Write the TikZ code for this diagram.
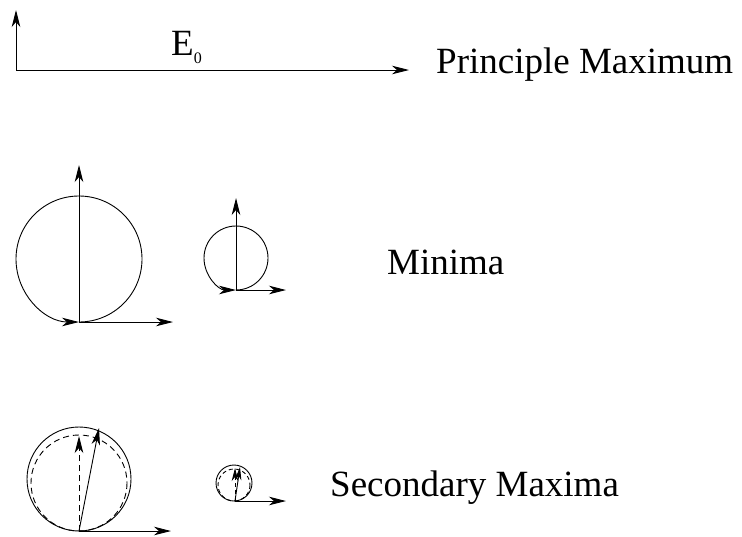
\documentclass[tikz,border=0pt]{standalone}
\usepackage{fontspec}
\setmainfont{Liberation Serif}
\usetikzlibrary{arrows.meta}
\begin{document}
\begin{tikzpicture}[x=1pt,y=-1pt,
  tip/.tip={Stealth[length=17pt,width=8.5pt,inset=5pt]},
  stip/.tip={Stealth[length=13pt,width=6.5pt,inset=4pt]},
  vec/.style={line width=0.9pt,-tip},
  circ/.style={line width=0.9pt},
  dcirc/.style={line width=0.9pt,dash pattern=on 6pt off 4pt},
  lbl/.style={inner sep=0pt,anchor=base west,font=\fontsize{37}{44}\selectfont}]
\useasboundingbox (0,0) rectangle (742,536);
% principle maximum
\coordinate (o1) at (16,70);
\coordinate (v1) at (16,10);
\coordinate (h1) at (409,70);
\draw[vec] (o1) -- (v1);
\draw[vec] (o1) -- (h1);
\node[lbl] (e0) at (171,55) {E\raisebox{-8pt}{\fontsize{16}{18}\selectfont 0}};
\node[lbl] (pm) at (436,73) {Principle Maximum};
% minima big
\coordinate (o2) at (79,322);
\coordinate (v2) at (79,165);
\coordinate (h2) at (173,322);
\draw[circ,-tip] (o2) arc[start angle=90,end angle=-270,radius=63];
\draw[vec] (o2) -- (v2);
\draw[vec] (o2) -- (h2);
% minima small
\coordinate (o3) at (236,290);
\coordinate (v3) at (236,198);
\coordinate (h3) at (286,290);
\draw[circ,-tip] (o3) arc[start angle=90,end angle=-270,radius=32];
\draw[vec] (o3) -- (v3);
\draw[vec] (o3) -- (h3);
\node[lbl] (mi) at (387,274) {Minima};
% secondary maxima big
\coordinate (o4) at (79,531);
\coordinate (d4) at (79,436);
\coordinate (s4) at (99,428);
\coordinate (h4) at (171,531);
\draw[circ] (79,479) circle[radius=52];
\draw[dcirc] (79,483) circle[radius=48];
\draw[vec,dash pattern=on 6pt off 4pt] (o4) -- (d4);
\draw[vec] (o4) -- (s4);
\draw[vec] (o4) -- (h4);
% secondary maxima small
\coordinate (o5) at (235,501);
\coordinate (d5) at (235,468);
\coordinate (s5) at (240,467);
\coordinate (h5) at (286,501);
\draw[circ] (234,483) circle[radius=18];
\draw[dcirc,dash pattern=on 4pt off 3pt] (234,485) circle[radius=16];
\draw[line width=0.9pt,dash pattern=on 4pt off 3pt,-stip] (o5) -- (d5);
\draw[line width=0.9pt,-stip] (o5) -- (s5);
\draw[vec] (o5) -- (h5);
\node[lbl] (sm) at (330,496) {Secondary Maxima};
\end{tikzpicture}
\end{document}
